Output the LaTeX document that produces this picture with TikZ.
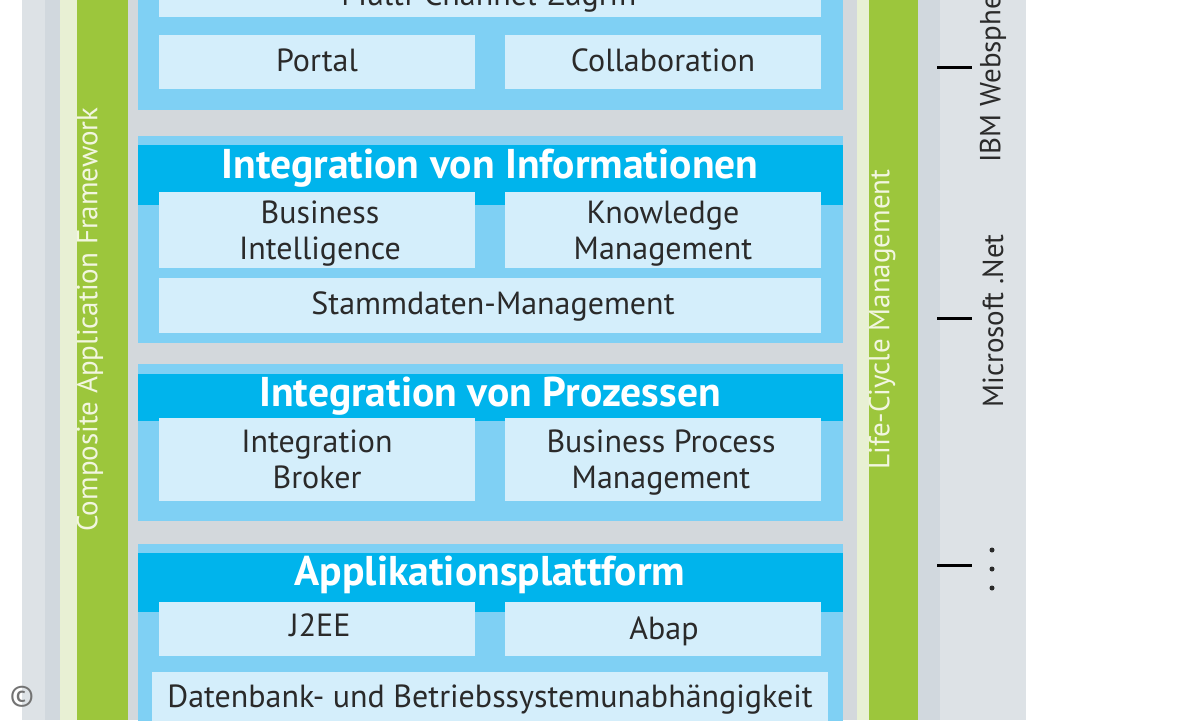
\documentclass[tikz,border=0pt]{standalone}
\usepackage{fontspec}
\setmainfont{PT Sans}
\definecolor{lgrey}{HTML}{DDE2E6}
\definecolor{dgrey}{HTML}{D1D8DE}
\definecolor{gapgrey}{HTML}{D3D8DC}
\definecolor{palegreen}{HTML}{E8F0D4}
\definecolor{barGreen}{HTML}{9CC63C}
\definecolor{contblue}{HTML}{7FD0F4}
\definecolor{bandblue}{HTML}{00B4EC}
\definecolor{boxblue}{HTML}{D4EEFB}
\definecolor{txt}{HTML}{2A2A2A}
\definecolor{greentxt}{HTML}{F2F6E0}
\tikzset{
  ibox/.style={fill=boxblue, inner sep=0pt, text=txt, align=center,
    font=\fontsize{16}{18}\selectfont},
  btxt/.style={inner sep=0pt, text=txt, align=center,
    font=\fontsize{16}{18}\selectfont},
  ttl/.style={text=white, anchor=base, inner sep=0pt,
    font=\fontsize{20.8}{24}\selectfont\bfseries},
  vlab/.style={rotate=90, anchor=west, inner sep=0pt,
    font=\fontsize{14.5}{16}\selectfont},
  tick/.style={line width=1.5pt, black},
}
\begin{document}
\begin{tikzpicture}[x=0.5pt,y=-0.5pt]
\useasboundingbox (0,0) rectangle (1200,720);
\clip (0,0) rectangle (1200,720);
\fill[white] (0,0) rectangle (1200,720);
% outer bands
\fill[lgrey] (22,0) rectangle (45,720);
\fill[dgrey] (45,0) rectangle (60,720);
\fill[palegreen] (60,0) rectangle (77,720);
\fill[barGreen] (77,0) rectangle (128,720);
\fill[gapgrey] (128,0) rectangle (857,720);
\fill[palegreen] (857,0) rectangle (869,720);
\fill[barGreen] (869,0) rectangle (918,720);
\fill[dgrey] (918,0) rectangle (940,720);
\fill[lgrey] (940,0) rectangle (1026,720);
% section containers
\fill[contblue] (138,-60) rectangle (843,110);
\fill[contblue] (138,136) rectangle (843,343);
\fill[bandblue] (138,145) rectangle (843,205);
\fill[contblue] (138,364) rectangle (843,521);
\fill[bandblue] (138,374) rectangle (843,421);
\fill[contblue] (138,544) rectangle (843,740);
\fill[bandblue] (138,553) rectangle (843,612);
% section 1
\node[ibox, minimum width=331pt, minimum height=40pt] (multi) at (490,-23) {};
\node[anchor=base, btxt] (multitxt) at (490,5) {Multi-Channel-Zugriff};
\node[ibox, minimum width=158pt, minimum height=27pt] (portal) at (317,62) {};
\node[btxt] (portaltxt) at (317,64) {\strut Portal};
\node[ibox, minimum width=158pt, minimum height=27pt] (collab) at (663,62) {};
\node[btxt] (collabtxt) at (663,64) {\strut Collaboration};
% section 2
\node[ttl] (t2) at (490,178) {Integration von Informationen};
\node[ibox, minimum width=158pt, minimum height=38pt] (bi) at (317,230) {};
\node[btxt] (bitxt) at (320,234) {\strut Business\\\strut Intelligence};
\node[ibox, minimum width=158pt, minimum height=38pt] (km) at (663,230) {};
\node[btxt] (kmtxt) at (663,234) {\strut Knowledge\\\strut Management};
\node[ibox, minimum width=331pt, minimum height=27.5pt] (stamm) at (490,305.5) {};
\node[btxt] (stammtxt) at (493,307) {\strut Stammdaten-Management};
% section 3
\node[ttl] (t3) at (490,406) {Integration von Prozessen};
\node[ibox, minimum width=158pt, minimum height=41.5pt] (broker) at (317,459.5) {};
\node[btxt] (brokertxt) at (317,463) {\strut Integration\\\strut Broker};
\node[ibox, minimum width=158pt, minimum height=41.5pt] (bpm) at (663,459.5) {};
\node[btxt] (bpmtxt) at (661,463) {\strut Business Process\\\strut Management};
% section 4
\node[ttl] (t4) at (490,585) {Applikationsplattform};
\node[ibox, minimum width=158pt, minimum height=27pt] (j2ee) at (317,629) {};
\node[btxt] (j2eetxt) at (320,629) {\strut J2EE};
\node[ibox, minimum width=158pt, minimum height=27pt] (abap) at (663,629) {};
\node[btxt] (abaptxt) at (664,632) {\strut Abap};
\node[ibox, minimum width=338pt, minimum height=29pt] (db) at (490,701) {};
\node[anchor=base, btxt] (dbtxt) at (490,707) {Datenbank- und Betriebssystemunabhängigkeit};
% vertical labels
\node[vlab, text=greentxt] (caf) at (90,532) {Composite Application Framework};
\node[vlab, text=greentxt] (lcm) at (882,470) {Life-Ciycle Management};
\node[vlab, text=txt] (ibm) at (993,163) {IBM Websphere};
\node[vlab, text=txt] (ms) at (993,408) {Microsoft .Net};
% ticks and dots
\draw[tick] (937,67) -- (972,67);
\draw[tick] (937,318) -- (972,318);
\draw[tick] (937,565) -- (972,565);
\fill[txt] (992,550) circle (2.5);
\fill[txt] (992,569) circle (2.5);
\fill[txt] (992,588) circle (2.5);
% copyright
\node[text=black!55, inner sep=0pt, font=\fontsize{15}{16}\selectfont] (copy) at (22,697) {©};
\end{tikzpicture}
\end{document}
